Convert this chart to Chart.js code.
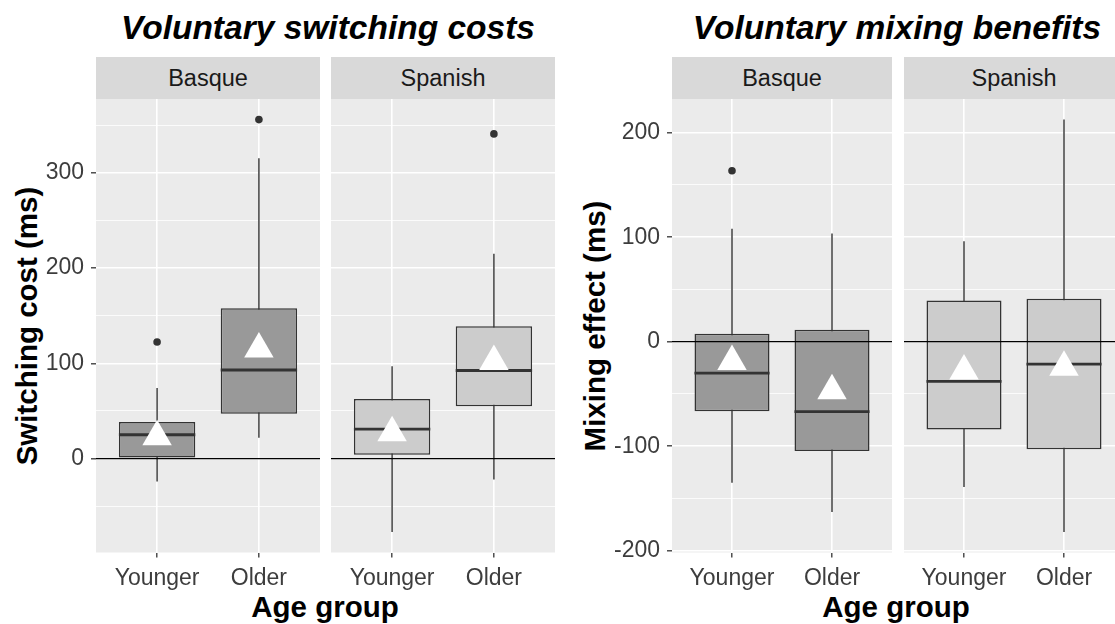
<!DOCTYPE html>
<html>
<head>
<meta charset="utf-8">
<script src="https://cdn.jsdelivr.net/npm/chart.js@4.4.1/dist/chart.umd.min.js"></script>
<style>
  html, body { margin:0; padding:0; background:#fff; width:1115px; height:624px; overflow:hidden; }
  body { position:relative; font-family:"Liberation Sans", Arial, sans-serif; }
  canvas { position:absolute; }
  .t { position:absolute; transform:translate(-50%,-50%); white-space:nowrap; line-height:1; }
  .title { font-weight:bold; font-style:italic; font-size:33.5px; color:#000; }
  .axt { font-weight:bold; font-size:29.5px; color:#000; }
  .rot { transform:translate(-50%,-50%) rotate(-90deg); }
  .strip { position:absolute; top:57px; height:42px; background:#d9d9d9; display:flex; align-items:center; justify-content:center; font-size:23.5px; color:#1a1a1a; }
</style>
</head>
<body>
<div class="t title" style="left:328px; top:28px;">Voluntary switching costs</div>
<div class="t title" style="left:897px; top:28px;">Voluntary mixing benefits</div>

<div class="strip" style="left:96px; width:224px;">Basque</div>
<div class="strip" style="left:331px; width:224px;">Spanish</div>
<div class="strip" style="left:672px; width:220px;">Basque</div>
<div class="strip" style="left:904px; width:220px;">Spanish</div>

<div class="t axt rot" style="left:27px; top:326px;">Switching cost (ms)</div>
<div class="t axt rot" style="left:595px; top:326px;">Mixing effect (ms)</div>
<div class="t axt" style="left:325px; top:607px;">Age group</div>
<div class="t axt" style="left:896px; top:607px;">Age group</div>

<canvas id="swB" width="320" height="500" style="left:0px; top:99px;"></canvas>
<canvas id="swS" width="224" height="500" style="left:331px; top:99px;"></canvas>
<canvas id="mxB" width="316" height="500" style="left:576px; top:99px;"></canvas>
<canvas id="mxS" width="220" height="500" style="left:904px; top:99px;"></canvas>

<script>
// ---------- categories ----------
const ageGroups = ['Younger', 'Older'];
const languages = ['Basque', 'Spanish'];

// ---------- Voluntary switching costs (ms) ----------
const switchBasqueLow      = [-24, 22];
const switchBasqueQ1       = [1, 47];
const switchBasqueMedian   = [25, 93];
const switchBasqueQ3       = [38.5, 158];
const switchBasqueHigh     = [74, 315.5];
const switchBasqueMean     = [23, 115];
const switchBasqueOutliers = [[122.5], [356]];

const switchSpanishLow      = [-77, -22];
const switchSpanishQ1       = [4, 55];
const switchSpanishMedian   = [31, 92.5];
const switchSpanishQ3       = [62.5, 139];
const switchSpanishHigh     = [97, 215];
const switchSpanishMean     = [27, 102];
const switchSpanishOutliers = [[], [341]];

// ---------- Voluntary mixing benefits (ms) ----------
const mixBasqueLow      = [-135, -163];
const mixBasqueQ1       = [-66.5, -104.5];
const mixBasqueMedian   = [-30, -67];
const mixBasqueQ3       = [7.5, 11.5];
const mixBasqueHigh     = [108, 103.5];
const mixBasqueMean     = [-19, -47];
const mixBasqueOutliers = [[163.5], []];

const mixSpanishLow      = [-139, -182];
const mixSpanishQ1       = [-84, -103];
const mixSpanishMedian   = [-38, -21.5];
const mixSpanishQ3       = [39.5, 41];
const mixSpanishHigh     = [96, 212.5];
const mixSpanishMean     = [-28, -24.5];
const mixSpanishOutliers = [[], []];

// ---------- tick labels ----------
const switchMajorTicks = [0, 100, 200, 300];
const switchMinorTicks = [-50, 50, 150, 250, 350];
const mixMajorTicks    = [-200, -100, 0, 100, 200];
const mixMinorTicks    = [-150, -50, 50, 150];

// ---------- styling constants ----------
const X_MIN = 0.4, X_MAX = 2.6, BOX_HALF = 0.375;
const LANG_FILL = { Basque: '#999999', Spanish: '#cccccc' };
const DARK = '#333333';
const TICK_TEXT = '#3d3d3d';

function expandedRange(arrs) {
  const all = arrs.flat(2);
  const lo = Math.min(...all), hi = Math.max(...all);
  const pad = (hi - lo) * 0.05;
  return [lo - pad, hi + pad];
}
const switchRange = expandedRange([switchBasqueLow, switchBasqueHigh, switchBasqueOutliers,
                                   switchSpanishLow, switchSpanishHigh, switchSpanishOutliers]);
const mixRange = expandedRange([mixBasqueLow, mixBasqueHigh, mixBasqueOutliers,
                                mixSpanishLow, mixSpanishHigh, mixSpanishOutliers]);

const panelBg = {
  id: 'panelBg',
  beforeDraw(chart) {
    const { ctx, chartArea: a } = chart;
    ctx.save();
    ctx.fillStyle = '#ebebeb';
    ctx.fillRect(a.left, a.top, a.right - a.left, a.bottom - a.top);
    ctx.restore();
  }
};

function zeroPad(sc) { sc.paddingLeft = 0; sc.paddingRight = 0; sc.paddingTop = 0; sc.paddingBottom = 0; }

function makePanel(id, lang, s, range, major, minor, showY) {
  const idx = ageGroups.map((g, i) => i + 1);
  const datasets = [
    { // whiskers
      type: 'line', order: 5,
      data: idx.flatMap((x, i) => [{ x, y: s.low[i] }, { x, y: s.high[i] }, { x, y: null }]),
      borderColor: DARK, borderWidth: 1.4, pointRadius: 0, spanGaps: false, fill: false
    },
    { // boxes (Q1..Q3)
      type: 'bar', order: 4,
      data: idx.map((x, i) => ({ x, y: [s.q1[i], s.q3[i]] })),
      backgroundColor: LANG_FILL[lang], borderColor: DARK, borderWidth: 1.5,
      borderSkipped: false, categoryPercentage: 1, barPercentage: 2 * BOX_HALF
    },
    { // zero reference line
      type: 'line', order: 3,
      data: [{ x: X_MIN, y: 0 }, { x: X_MAX, y: 0 }],
      borderColor: '#000', borderWidth: 1.3, pointRadius: 0, fill: false
    },
    { // medians
      type: 'line', order: 2,
      data: idx.flatMap((x, i) => [{ x: x - BOX_HALF, y: s.med[i] }, { x: x + BOX_HALF, y: s.med[i] }, { x, y: null }]),
      borderColor: DARK, borderWidth: 2.8, pointRadius: 0, spanGaps: false, fill: false
    },
    { // outliers
      type: 'scatter', order: 1,
      data: idx.flatMap((x, i) => s.out[i].map(v => ({ x, y: v }))),
      pointRadius: 3.8, pointBackgroundColor: DARK, pointBorderWidth: 0
    },
    { // means
      type: 'scatter', order: 0,
      data: idx.map((x, i) => ({ x, y: s.mean[i] })),
      pointStyle: 'triangle', pointRadius: 17, pointBackgroundColor: '#ffffff', pointBorderWidth: 0
    }
  ];
  const isMajor = v => major.includes(v);
  return new Chart(document.getElementById(id), {
    type: 'bar',
    data: { datasets },
    plugins: [panelBg],
    options: {
      responsive: false, animation: false, devicePixelRatio: 1,
      layout: { padding: 0, autoPadding: false },
      plugins: { legend: { display: false }, tooltip: { enabled: false } },
      events: [],
      scales: {
        x: {
          type: 'linear', min: X_MIN, max: X_MAX, offset: false,
          afterBuildTicks: sc => { sc.ticks = idx.map(v => ({ value: v })); },
          afterFit: sc => { sc.height = 46.5; zeroPad(sc); },
          ticks: {
            callback: v => ageGroups[v - 1] ?? '',
            font: { family: '"Liberation Sans", Arial, sans-serif', size: 23 },
            color: TICK_TEXT, padding: 7, maxRotation: 0, minRotation: 0, autoSkip: false
          },
          grid: { offset: false, color: '#ffffff', lineWidth: 1.6, drawTicks: true, tickLength: 5, tickColor: DARK, tickWidth: 1.3 },
          border: { display: false }
        },
        y: {
          type: 'linear', min: range[0], max: range[1],
          afterBuildTicks: sc => { sc.ticks = [...major, ...minor].sort((a, b) => a - b).map(v => ({ value: v })); },
          afterFit: sc => { sc.width = showY ? 96 : 0; zeroPad(sc); },
          ticks: {
            display: showY,
            callback: v => isMajor(v) ? String(v) : '',
            font: { family: '"Liberation Sans", Arial, sans-serif', size: 23 },
            color: TICK_TEXT, padding: 7, autoSkip: false
          },
          grid: {
            color: '#ffffff',
            lineWidth: c => isMajor(c.tick.value) ? 1.6 : 0.8,
            drawTicks: showY, tickLength: 5,
            tickColor: c => isMajor(c.tick.value) ? DARK : 'rgba(0,0,0,0)',
            tickWidth: 1.3
          },
          border: { display: false }
        }
      }
    }
  });
}

const stats = (low, q1, med, q3, high, mean, out) => ({ low, q1, med, q3, high, mean, out });

makePanel('swB', languages[0], stats(switchBasqueLow, switchBasqueQ1, switchBasqueMedian, switchBasqueQ3, switchBasqueHigh, switchBasqueMean, switchBasqueOutliers), switchRange, switchMajorTicks, switchMinorTicks, true);
makePanel('swS', languages[1], stats(switchSpanishLow, switchSpanishQ1, switchSpanishMedian, switchSpanishQ3, switchSpanishHigh, switchSpanishMean, switchSpanishOutliers), switchRange, switchMajorTicks, switchMinorTicks, false);
makePanel('mxB', languages[0], stats(mixBasqueLow, mixBasqueQ1, mixBasqueMedian, mixBasqueQ3, mixBasqueHigh, mixBasqueMean, mixBasqueOutliers), mixRange, mixMajorTicks, mixMinorTicks, true);
makePanel('mxS', languages[1], stats(mixSpanishLow, mixSpanishQ1, mixSpanishMedian, mixSpanishQ3, mixSpanishHigh, mixSpanishMean, mixSpanishOutliers), mixRange, mixMajorTicks, mixMinorTicks, false);
</script>
</body>
</html>
